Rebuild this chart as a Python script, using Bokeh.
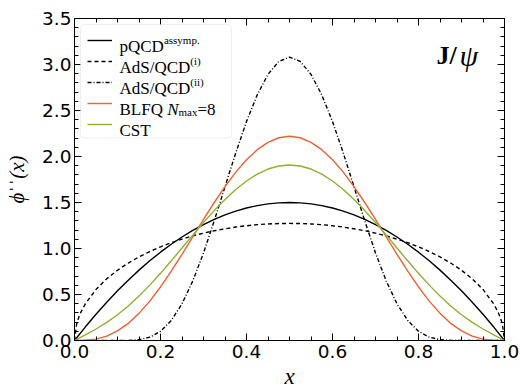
from bokeh.plotting import figure
from bokeh.models import (Range1d, LinearAxis, SingleIntervalTicker, NumeralTickFormatter,
                          Legend, LegendItem, Label, BoxAnnotation)
from bokeh.core.properties import value
from bokeh.embed import file_html
from bokeh.resources import INLINE

# ---------------- data ----------------
x_grid = [0.0, 0.025, 0.05, 0.075, 0.1, 0.125, 0.15, 0.175, 0.2, 0.225, 0.25,
          0.275, 0.3, 0.325, 0.35, 0.375, 0.4, 0.425, 0.45, 0.475, 0.5,
          0.525, 0.55, 0.575, 0.6, 0.625, 0.65, 0.675, 0.7, 0.725, 0.75,
          0.775, 0.8, 0.825, 0.85, 0.875, 0.9, 0.925, 0.95, 0.975, 1.0]

pqcd = [0.0, 0.146, 0.285, 0.416, 0.54, 0.656, 0.765, 0.866, 0.96, 1.046, 1.125,
        1.196, 1.26, 1.316, 1.365, 1.406, 1.44, 1.466, 1.485, 1.496, 1.5,
        1.496, 1.485, 1.466, 1.44, 1.406, 1.365, 1.316, 1.26, 1.196, 1.125,
        1.046, 0.96, 0.866, 0.765, 0.656, 0.54, 0.416, 0.285, 0.146, 0.0]

x_ads1 = [0.0, 0.005, 0.01, 0.015, 0.025, 0.05, 0.075, 0.1, 0.125, 0.15, 0.175, 0.2,
          0.225, 0.25, 0.275, 0.3, 0.325, 0.35, 0.375, 0.4, 0.425, 0.45, 0.475, 0.5,
          0.525, 0.55, 0.575, 0.6, 0.625, 0.65, 0.675, 0.7, 0.725, 0.75, 0.775, 0.8,
          0.825, 0.85, 0.875, 0.9, 0.925, 0.95, 0.975, 0.985, 0.99, 0.995, 1.0]
ads1 = [0.0, 0.180, 0.253, 0.309, 0.397, 0.555, 0.671, 0.764, 0.842, 0.909, 0.967, 1.018,
        1.063, 1.102, 1.137, 1.167, 1.193, 1.214, 1.233, 1.247, 1.259, 1.267, 1.271, 1.273,
        1.271, 1.267, 1.259, 1.247, 1.233, 1.214, 1.193, 1.167, 1.137, 1.102, 1.063, 1.018,
        0.967, 0.909, 0.842, 0.764, 0.671, 0.555, 0.397, 0.309, 0.253, 0.180, 0.0]

ads2 = [0.0, 0.0, 0.0, 0.0, 0.0001, 0.0013, 0.0092, 0.0361, 0.0996, 0.217, 0.399,
        0.646, 0.952, 1.301, 1.672, 2.039, 2.38, 2.67, 2.893, 3.033, 3.08,
        3.033, 2.893, 2.67, 2.38, 2.039, 1.672, 1.301, 0.952, 0.646, 0.399,
        0.217, 0.0996, 0.0361, 0.0092, 0.0013, 0.0001, 0.0, 0.0, 0.0, 0.0]

blfq = [0.0, 0.002, 0.015, 0.047, 0.104, 0.186, 0.295, 0.428, 0.582, 0.753, 0.937,
        1.126, 1.316, 1.5, 1.673, 1.83, 1.964, 2.074, 2.154, 2.204, 2.22,
        2.204, 2.154, 2.074, 1.964, 1.83, 1.673, 1.5, 1.316, 1.126, 0.937,
        0.753, 0.582, 0.428, 0.295, 0.186, 0.104, 0.047, 0.015, 0.002, 0.0]

cst = [0.0, 0.061, 0.125, 0.197, 0.28, 0.375, 0.483, 0.602, 0.73, 0.866, 1.005,
       1.145, 1.282, 1.412, 1.533, 1.642, 1.734, 1.809, 1.864, 1.897, 1.908,
       1.897, 1.864, 1.809, 1.734, 1.642, 1.533, 1.412, 1.282, 1.145, 1.005,
       0.866, 0.73, 0.602, 0.483, 0.375, 0.28, 0.197, 0.125, 0.061, 0.0]

x_limits = (0.0, 1.0)
y_limits = (0.0, 3.5)

# ---------------- layout ----------------
L, R, T, B = 74, 16, 18, 50
WIDTH, HEIGHT = 520, 391
FW, FH = WIDTH - L - R, HEIGHT - T - B


def dx(px):
    return x_limits[0] + (px - L) / FW * (x_limits[1] - x_limits[0])


def dy(py):
    return y_limits[0] + (T + FH - py) / FH * (y_limits[1] - y_limits[0])


p = figure(width=WIDTH, height=HEIGHT, output_backend="svg", toolbar_location=None,
           x_range=Range1d(*x_limits), y_range=Range1d(*y_limits),
           min_border_left=L, min_border_right=R, min_border_top=T, min_border_bottom=B)
p.xgrid.visible = False
p.ygrid.visible = False
p.background_fill_color = "white"
p.border_fill_color = "white"
p.outline_line_color = "black"
p.outline_line_width = 1

TICK_FONT = "DejaVu Sans"
TICK_SIZE = "18.5px"
SERIF = "Liberation Serif"


def style_axis(ax, show_labels, standoff):
    ax.axis_line_color = "black"
    ax.major_tick_line_color = "black"
    ax.minor_tick_line_color = "black"
    ax.major_tick_in = 7
    ax.major_tick_out = 0
    ax.minor_tick_in = 4
    ax.minor_tick_out = 0
    ax.major_label_standoff = standoff
    if show_labels:
        ax.major_label_text_font = TICK_FONT
        ax.major_label_text_font_size = TICK_SIZE
        ax.major_label_text_color = "black"
    else:
        ax.major_label_text_font_size = "0px"
        ax.major_label_text_alpha = 0


p.xaxis.ticker = SingleIntervalTicker(interval=0.2, num_minor_ticks=4)
p.yaxis.ticker = SingleIntervalTicker(interval=0.5, num_minor_ticks=5)
p.xaxis.formatter = NumeralTickFormatter(format="0.0")
p.yaxis.formatter = NumeralTickFormatter(format="0.0")
style_axis(p.xaxis[0], True, 4)
style_axis(p.yaxis[0], True, 3)

# x axis label
p.xaxis.axis_label = "x"
p.xaxis.axis_label_text_font = SERIF
p.xaxis.axis_label_text_font_style = "italic"
p.xaxis.axis_label_text_font_size = "23px"
p.xaxis.axis_label_text_color = "black"
p.xaxis.axis_label_standoff = 3

# y axis label: phi with a raised double bar, then (x)
p.yaxis.axis_label = "ϕˈˈ(x)"
p.yaxis.axis_label_text_font = SERIF
p.yaxis.axis_label_text_font_style = "italic"
p.yaxis.axis_label_text_font_size = "21px"
p.yaxis.axis_label_text_color = "black"
p.yaxis.axis_label_standoff = 10

top_ax = LinearAxis(ticker=SingleIntervalTicker(interval=0.2, num_minor_ticks=4))
right_ax = LinearAxis(ticker=SingleIntervalTicker(interval=0.5, num_minor_ticks=5))
style_axis(top_ax, False, 0)
style_axis(right_ax, False, 0)
p.add_layout(top_ax, "above")
p.add_layout(right_ax, "right")

LW = 1.4
r1 = p.line(x_grid, pqcd, line_color="black", line_width=LW)
r2 = p.line(x_ads1, ads1, line_color="black", line_width=LW, line_dash="4 3")
r3 = p.line(x_grid, ads2, line_color="black", line_width=LW, line_dash="4 2 1 2")
r4 = p.line(x_grid, blfq, line_color="#EB6235", line_width=LW)
r5 = p.line(x_grid, cst, line_color="#8FB032", line_width=LW)

# legend frame
box = BoxAnnotation(left=dx(80), right=dx(231), top=dy(24), bottom=dy(138),
                    fill_color="white", fill_alpha=1.0, line_color="#c8c8c8",
                    line_width=1, border_radius=4)
p.add_layout(box)

# legend line samples
items = [LegendItem(label=value(" " * (i + 1)), renderers=[r])
         for i, r in enumerate([r1, r2, r3, r4, r5])]
legend = Legend(items=items, location="top_left", margin=6, padding=7, spacing=3,
                glyph_width=25, glyph_height=18, label_height=18, label_width=1,
                label_standoff=0, label_text_font_size="1px",
                border_line_alpha=0, background_fill_alpha=0)
p.add_layout(legend)


def lab(px, py, text, size, style="normal", align="left", font=SERIF):
    p.add_layout(Label(x=dx(px), y=dy(py), text=text, text_font=font,
                       text_font_size=f"{size}px", text_font_style=style,
                       text_align=align, text_baseline="alphabetic",
                       text_color="black"))


# legend texts
TX = 119
lab(TX, 46, "pQCD", 17)
lab(TX + 44.4, 40, "assymp.", 11)
lab(TX, 67, "AdS/QCD", 17)
lab(TX + 70.8, 61, "(i)", 11)
lab(TX, 88, "AdS/QCD", 17)
lab(TX + 70.8, 82, "(ii)", 11)
lab(TX, 109, "BLFQ", 17)
lab(TX + 47.7, 109, "N", 17, "italic")
lab(TX + 59.0, 112, "max", 11)
lab(TX + 78.0, 109, "=8", 17)
lab(TX, 130, "CST", 17)

# J/psi tag
lab(436, 55, "J/", 26, "bold")
lab(459, 55, "ψ", 30, "italic")

open("out.html", "w").write(file_html(p, INLINE))
